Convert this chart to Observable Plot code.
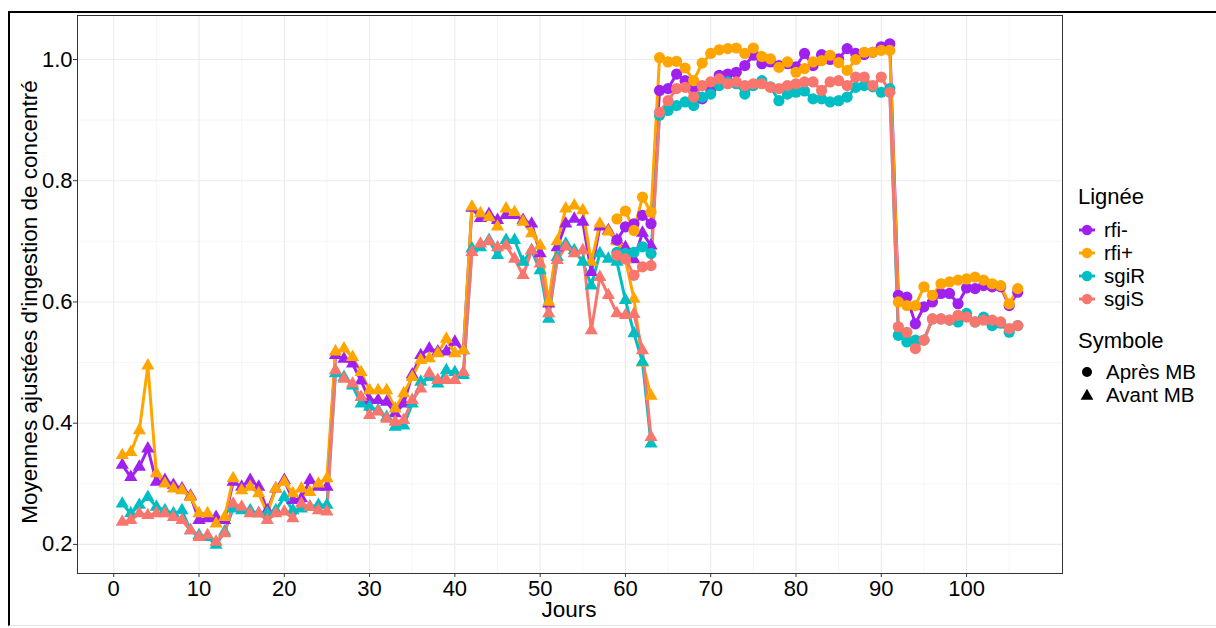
<!DOCTYPE html>
<html><head><meta charset="utf-8">
<script src="https://cdn.jsdelivr.net/npm/d3@7"></script>
<script src="https://cdn.jsdelivr.net/npm/@observablehq/plot@0.6"></script>
<style>
body{margin:0;background:#fff;font-family:"Liberation Sans",Arial,sans-serif;color:#000;}
#wrap{position:relative;width:1216px;height:628px;overflow:hidden;background:#fff;}
#frame{position:absolute;left:8px;top:11px;width:1300px;height:612px;border-top:2px solid #000;border-left:2px solid #000;border-bottom:1px solid #e6e6e6;}
#chart{position:absolute;left:0;top:0;}
.t{position:absolute;font-size:22.5px;line-height:26px;white-space:nowrap;}
.lg{position:absolute;font-size:22px;line-height:20px;white-space:nowrap;}
.lgi{position:absolute;font-size:20.5px;line-height:20px;white-space:nowrap;}
.key{position:absolute;}
</style></head>
<body><div id="wrap"><div id="frame"></div><div id="chart"></div>
<div class="t" id="ytitle" style="left:-270px;top:289px;width:600px;text-align:center;transform:rotate(-90deg);">Moyennes ajustées d'ingestion de concentré</div>
<div class="t" style="left:269px;top:597px;width:600px;text-align:center;">Jours</div>
<div id="legend"></div>
</div>
<script>
const lineages = ["rfi-", "rfi+", "sgiR", "sgiS"];
const lineColors = ["#A020F0", "#FFA500", "#00BFC4", "#F8766D"];
const symboles = ["Après MB", "Avant MB"];
const xTicks = [0, 10, 20, 30, 40, 50, 60, 70, 80, 90, 100];
const xMinor = [5, 15, 25, 35, 45, 55, 65, 75, 85, 95, 105];
const yTicks = [0.2, 0.4, 0.6, 0.8, 1.0];
const yMinor = [0.3, 0.5, 0.7, 0.9];

// Avant MB (triangles), days 1..63
const avantStart = 1;
const avant_rfiMinus = [0.331,0.311,0.328,0.358,0.303,0.306,0.298,0.292,0.280,0.240,0.243,0.245,0.240,0.303,0.295,0.306,0.295,0.256,0.292,0.306,0.273,0.276,0.306,0.295,0.295,
0.512,0.506,0.498,0.470,0.438,0.438,0.435,0.416,0.432,0.480,0.512,0.523,0.518,0.518,0.534,0.520,
0.755,0.738,0.745,0.735,0.743,0.743,0.735,0.729,0.680,0.597,0.690,0.729,0.737,0.732,0.649,0.724,0.718,0.702,0.690,0.670,0.714,0.693];
const avant_rfiPlus = [0.347,0.352,0.388,0.495,0.317,0.300,0.292,0.289,0.278,0.251,0.251,0.234,0.245,0.309,0.289,0.295,0.284,0.251,0.292,0.303,0.284,0.292,0.286,0.300,0.309,
0.518,0.523,0.509,0.484,0.454,0.454,0.454,0.424,0.449,0.476,0.504,0.507,0.515,0.539,0.515,0.520,
0.757,0.746,0.740,0.724,0.754,0.748,0.732,0.713,0.693,0.600,0.700,0.754,0.759,0.751,0.666,0.729,0.716,0.700,0.670,0.605,0.500,0.445];
const avant_sgiR = [0.267,0.251,0.265,0.278,0.262,0.256,0.251,0.256,0.223,0.215,0.212,0.199,0.221,0.259,0.256,0.256,0.251,0.251,0.256,0.278,0.256,0.259,0.262,0.265,0.265,
0.482,0.476,0.462,0.432,0.427,0.421,0.410,0.394,0.396,0.432,0.468,0.476,0.465,0.487,0.484,0.479,
0.688,0.690,0.702,0.677,0.702,0.702,0.666,0.685,0.652,0.572,0.674,0.696,0.685,0.666,0.627,0.680,0.671,0.666,0.603,0.548,0.501,0.366];
const avant_sgiS = [0.237,0.240,0.251,0.248,0.251,0.251,0.245,0.240,0.223,0.212,0.215,0.204,0.218,0.267,0.262,0.251,0.251,0.240,0.251,0.254,0.243,0.267,0.262,0.256,0.254,
0.487,0.473,0.465,0.443,0.413,0.419,0.407,0.402,0.405,0.438,0.457,0.482,0.471,0.471,0.471,0.484,
0.682,0.696,0.700,0.690,0.693,0.671,0.644,0.685,0.663,0.581,0.669,0.691,0.680,0.685,0.553,0.641,0.611,0.581,0.578,0.580,0.520,0.377];

// Après MB (circles), days 59..106
const apresStart = 59;
const apres_rfiMinus = [0.702,0.724,0.729,0.743,0.729,
0.949,0.952,0.976,0.965,0.955,0.935,0.950,0.974,0.976,0.979,0.990,1.007,0.993,0.996,0.990,0.993,0.988,1.010,0.990,1.008,1.000,1.001,1.018,1.010,1.008,1.012,1.021,1.026,
0.611,0.608,0.564,0.592,0.600,0.614,0.614,0.597,0.623,0.622,0.627,0.625,0.625,0.594,0.616];
const apres_rfiPlus = [0.737,0.750,0.718,0.773,0.748,
1.003,0.996,0.997,0.986,0.965,0.994,1.010,1.016,1.018,1.019,1.010,1.019,1.005,1.001,0.987,0.996,0.979,0.985,0.996,0.998,1.007,0.995,0.982,1.000,1.012,1.012,1.015,1.015,
0.600,0.594,0.594,0.625,0.611,0.630,0.633,0.636,0.638,0.641,0.636,0.630,0.627,0.597,0.622];
const apres_sgiR = [0.682,0.680,0.682,0.691,0.680,
0.908,0.916,0.924,0.930,0.924,0.938,0.943,0.957,0.963,0.960,0.943,0.957,0.965,0.955,0.932,0.943,0.946,0.948,0.935,0.935,0.930,0.932,0.938,0.954,0.957,0.955,0.946,0.952,
0.545,0.534,0.537,0.537,0.572,0.572,0.570,0.567,0.581,0.567,0.575,0.561,0.565,0.550,0.561];
const apres_sgiS = [0.677,0.671,0.644,0.658,0.660,
0.913,0.932,0.952,0.954,0.938,0.957,0.963,0.968,0.960,0.963,0.957,0.960,0.960,0.954,0.952,0.957,0.960,0.963,0.963,0.949,0.963,0.965,0.957,0.971,0.971,0.957,0.971,0.946,
0.559,0.550,0.523,0.537,0.572,0.572,0.570,0.578,0.575,0.567,0.570,0.570,0.567,0.556,0.561];

const avantSeries = [avant_rfiMinus, avant_rfiPlus, avant_sgiR, avant_sgiS];
const apresSeries = [apres_rfiMinus, apres_rfiPlus, apres_sgiR, apres_sgiS];

const avantRows = [], apresRows = [];
lineages.forEach((lin, k) => {
  avantSeries[k].forEach((v, i) => avantRows.push({day: avantStart + i, value: v, lineage: lin, symbole: "Avant MB"}));
  apresSeries[k].forEach((v, i) => apresRows.push({day: apresStart + i, value: v, lineage: lin, symbole: "Après MB"}));
});
const allRows = avantRows.concat(apresRows);

const chart = Plot.plot({
  width: 1070, height: 628,
  marginLeft: 77, marginRight: 8, marginTop: 15, marginBottom: 55,
  x: {domain: [-4.25, 111.25]},
  y: {domain: [0.152, 1.0726]},
  color: {domain: lineages, range: lineColors},
  style: {fontFamily: "'Liberation Sans', Arial, sans-serif", fontSize: "22px", color: "#000", background: "transparent", overflow: "visible"},
  marks: [
    Plot.ruleX(xMinor, {stroke: "#F4F4F4", strokeWidth: 0.8}),
    Plot.ruleY(yMinor, {stroke: "#F4F4F4", strokeWidth: 0.8}),
    Plot.ruleX(xTicks, {stroke: "#EBEBEB", strokeWidth: 1.1}),
    Plot.ruleY(yTicks, {stroke: "#EBEBEB", strokeWidth: 1.1}),
    Plot.line(allRows, {x: "day", y: "value", z: d => d.lineage + "|" + d.symbole, stroke: "lineage", strokeWidth: 3, curve: "linear"}),
    Plot.dot(avantRows, {x: "day", y: "value", fill: "lineage", symbol: "triangle", r: 4.9}),
    Plot.dot(apresRows, {x: "day", y: "value", fill: "lineage", symbol: "circle", r: 5.6}),
    Plot.frame({stroke: "#333333", strokeWidth: 1}),
    Plot.axisX(xTicks, {tickSize: 4, tickPadding: 3, label: null, stroke: "#333333", fill: "#000", fontSize: 22}),
    Plot.axisY(yTicks, {tickSize: 4, tickPadding: 1, label: null, stroke: "#333333", fill: "#000", fontSize: 22, tickFormat: d3.format(".1f")})
  ]
});
document.getElementById("chart").appendChild(chart);

// Legend
const leg = document.getElementById("legend");
function addText(txt, left, cy, cls) {
  const d = document.createElement("div");
  d.className = cls || "lg"; d.textContent = txt;
  d.style.left = left + "px"; d.style.top = (cy - 10) + "px";
  leg.appendChild(d);
}
function addKey(cx, cy, draw) {
  const s = d3.create("svg").attr("class", "key").attr("width", 20).attr("height", 20)
    .style("left", (cx - 10) + "px").style("top", (cy - 10) + "px");
  draw(s);
  leg.appendChild(s.node());
}
addText("Lignée", 1078, 197);
const legY = [230, 253, 276, 299];
lineages.forEach((lin, k) => {
  addKey(1087, legY[k], s => {
    s.append("line").attr("x1", 2).attr("x2", 18).attr("y1", 10).attr("y2", 10).attr("stroke", lineColors[k]).attr("stroke-width", 3);
    s.append("circle").attr("cx", 10).attr("cy", 10).attr("r", 5.2).attr("fill", lineColors[k]);
  });
  addText(lin, 1104, legY[k], "lgi");
});
addText("Symbole", 1078, 341);
addKey(1087, 372, s => s.append("circle").attr("cx", 10).attr("cy", 10).attr("r", 5).attr("fill", "#000"));
addText(symboles[0], 1106, 372, "lgi");
addKey(1087, 395, s => s.append("path").attr("d", d3.symbol(d3.symbolTriangle, 70)()).attr("transform", "translate(10,11)").attr("fill", "#000"));
addText(symboles[1], 1106, 395, "lgi");
</script>
</body></html>
